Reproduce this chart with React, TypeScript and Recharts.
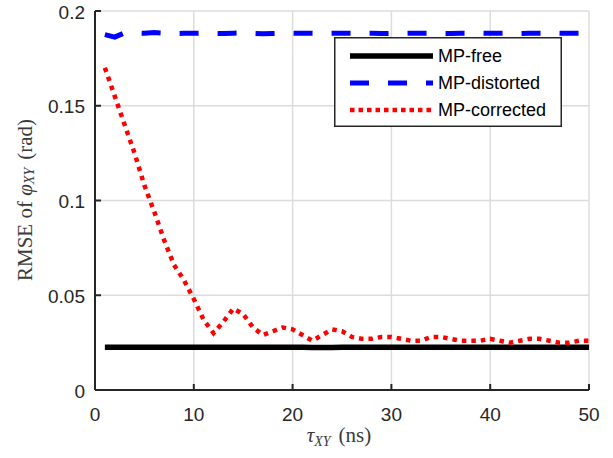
import { CartesianGrid, Label, Legend, Line, LineChart, XAxis, YAxis } from "recharts";

const TAU = [
  1, 2, 3, 4, 5, 6, 7, 8, 9, 10, 11, 12, 13, 14, 15, 16, 17, 18, 19, 20, 21, 22, 23, 24, 25,
  26, 27, 28, 29, 30, 31, 32, 33, 34, 35, 36, 37, 38, 39, 40, 41, 42, 43, 44, 45, 46, 47, 48, 49, 50,
];
const MP_FREE = [
  0.0225, 0.0225, 0.0226, 0.0226, 0.0226, 0.0225, 0.0225, 0.0225, 0.0225, 0.0225, 0.0225, 0.0225, 0.0225,
  0.0225, 0.0225, 0.0225, 0.0225, 0.0225, 0.0225, 0.0225, 0.0225, 0.0224, 0.0224, 0.0224, 0.0225, 0.0225,
  0.0225, 0.0225, 0.0226, 0.0226, 0.0226, 0.0225, 0.0225, 0.0225, 0.0225, 0.0225, 0.0225, 0.0225, 0.0225,
  0.0225, 0.0225, 0.0225, 0.0225, 0.0225, 0.0225, 0.0225, 0.0225, 0.0225, 0.0225, 0.0225,
];
const MP_DISTORTED = [
  0.1875, 0.1862, 0.1885, 0.1884, 0.1882, 0.1886, 0.1883, 0.1881, 0.1882, 0.1882, 0.1883, 0.1882, 0.1881,
  0.1883, 0.1884, 0.1882, 0.1880, 0.1881, 0.1882, 0.1883, 0.1882, 0.1882, 0.1881, 0.1882, 0.1883, 0.1882,
  0.1882, 0.1882, 0.1881, 0.1882, 0.1882, 0.1883, 0.1882, 0.1882, 0.1882, 0.1881, 0.1882, 0.1882, 0.1883,
  0.1882, 0.1882, 0.1882, 0.1881, 0.1882, 0.1882, 0.1882, 0.1883, 0.1882, 0.1882, 0.1882,
];
const MP_CORRECTED = [
  0.170, 0.155, 0.140, 0.125, 0.108, 0.094, 0.079, 0.066, 0.058, 0.048, 0.037, 0.030, 0.036, 0.043, 0.040,
  0.033, 0.029, 0.031, 0.033, 0.032, 0.029, 0.026, 0.029, 0.032, 0.031, 0.028, 0.027, 0.027, 0.028, 0.028,
  0.027, 0.026, 0.026, 0.028, 0.028, 0.027, 0.026, 0.026, 0.026, 0.027, 0.026, 0.025, 0.026, 0.027, 0.027,
  0.026, 0.025, 0.025, 0.026, 0.026,
];
const X_TICKS = [0, 10, 20, 30, 40, 50];
const Y_TICKS = [0, 0.05, 0.1, 0.15, 0.2];
const SERIES = [
  { key: "free", name: "MP-free", color: "#000000", width: 5.5, dash: undefined },
  { key: "distorted", name: "MP-distorted", color: "#0000ff", width: 5, dash: "19 19" },
  { key: "corrected", name: "MP-corrected", color: "#ff0000", width: 4.5, dash: "4.5 5" },
];

const data = TAU.map((t, i) => ({
  tau: t,
  free: MP_FREE[i],
  distorted: MP_DISTORTED[i],
  corrected: MP_CORRECTED[i],
}));

const INK = "#262626";
const SANS = "'Liberation Sans', Arial, sans-serif";
const SERIF = "'Liberation Serif', 'Times New Roman', serif";
const TICK_LEN = 6;

function BottomTick({ x, y, payload }: any) {
  return (
    <g>
      <line x1={x} y1={y} x2={x} y2={y - TICK_LEN} stroke={INK} strokeWidth={2} />
      <text x={x} y={y + 24} textAnchor="middle" dominantBaseline="central" fontSize={19} fontFamily={SANS} fill={INK}>
        {payload.value}
      </text>
    </g>
  );
}

function LeftTick({ x, y, payload }: any) {
  return (
    <g>
      <line x1={x} y1={y} x2={x + TICK_LEN} y2={y} stroke={INK} strokeWidth={2} />
      <text x={x - 10} y={y + 1} textAnchor="end" dominantBaseline="central" fontSize={19} fontFamily={SANS} fill={INK}>
        {payload.value}
      </text>
    </g>
  );
}

const TopTick = ({ x, y }: any) => <line x1={x} y1={y} x2={x} y2={y + TICK_LEN} stroke={INK} strokeWidth={2} />;
const RightTick = ({ x, y }: any) => <line x1={x} y1={y} x2={x - TICK_LEN} y2={y} stroke={INK} strokeWidth={2} />;

function XLabel({ viewBox }: any) {
  const cx = viewBox.x + viewBox.width / 2;
  return (
    <text x={cx - 3} y={viewBox.y + 52} textAnchor="middle" fontSize={21} fontFamily={SERIF} fill="#3a3a3a">
      <tspan fontStyle="italic">τ</tspan>
      <tspan fontStyle="italic" fontSize={14} dy={4}>XY</tspan>
      <tspan dy={-4} dx={8}>(ns)</tspan>
    </text>
  );
}

function YLabel() {
  return (
    <text
      x={25}
      y={200}
      transform="rotate(-90, 25, 200)"
      textAnchor="middle"
      dominantBaseline="central"
      fontSize={21}
      fontFamily={SERIF}
      fill="#3a3a3a"
    >
      RMSE of <tspan fontStyle="italic">φ</tspan>
      <tspan fontStyle="italic" fontSize={14} dy={4}>XY</tspan>
      <tspan dy={-4} dx={8}>(rad)</tspan>
    </text>
  );
}

function LegendBox() {
  return (
    <svg width={228} height={90} style={{ display: "block" }}>
      <rect x={0.75} y={0.75} width={226.5} height={88.5} fill="#ffffff" stroke={INK} strokeWidth={1.5} />
      {SERIES.map((s, i) => {
        const y = 19 + i * 27;
        return (
          <g key={s.key}>
            <line
              x1={16}
              y1={y}
              x2={99}
              y2={y}
              stroke={s.color}
              strokeWidth={s.width}
              strokeDasharray={s.key === "corrected" ? "4.5 4" : s.dash}
            />
            <text x={104} y={y} dominantBaseline="central" fontSize={18} fontFamily={SANS} fill="#000">
              {s.name}
            </text>
          </g>
        );
      })}
    </svg>
  );
}

export default function App() {
  return (
    <div style={{ position: "fixed", left: 0, top: 0, width: 613, height: 458, background: "#fff" }}>
      <LineChart width={613} height={458} data={data} margin={{ top: 11, right: 24, left: 0, bottom: 0 }}>
        <CartesianGrid stroke="#dcdcdc" strokeWidth={1.5} />
        <XAxis
          dataKey="tau"
          type="number"
          domain={[0, 50]}
          ticks={X_TICKS}
          allowDataOverflow
          height={68}
          tickSize={0}
          tickMargin={0}
          tickLine={false}
          tick={<BottomTick />}
          axisLine={{ stroke: INK, strokeWidth: 2 }}
        >
          <Label content={<XLabel />} />
        </XAxis>
        <XAxis
          xAxisId="top"
          orientation="top"
          dataKey="tau"
          type="number"
          domain={[0, 50]}
          ticks={X_TICKS}
          allowDataOverflow
          height={0}
          tickSize={0}
          tickMargin={0}
          tickLine={false}
          tick={<TopTick />}
          axisLine={{ stroke: INK, strokeWidth: 2 }}
        />
        <YAxis
          type="number"
          domain={[0, 0.2]}
          ticks={Y_TICKS}
          allowDataOverflow
          width={95}
          tickSize={0}
          tickMargin={0}
          tickLine={false}
          tick={<LeftTick />}
          axisLine={{ stroke: INK, strokeWidth: 2 }}
        >
          <Label content={<YLabel />} />
        </YAxis>
        <YAxis
          yAxisId="right"
          orientation="right"
          type="number"
          domain={[0, 0.2]}
          ticks={Y_TICKS}
          allowDataOverflow
          width={0}
          tickSize={0}
          tickMargin={0}
          tickLine={false}
          tick={<RightTick />}
          axisLine={{ stroke: INK, strokeWidth: 2 }}
        />
        <Legend
          layout="horizontal"
          verticalAlign="middle"
          align="center"
          content={<LegendBox />}
          wrapperStyle={{ left: 334, top: 37, width: 228, height: 90 }}
        />
        {SERIES.map((s) => (
          <Line
            key={s.key}
            type="linear"
            dataKey={s.key}
            name={s.name}
            stroke={s.color}
            strokeWidth={s.width}
            strokeDasharray={s.dash}
            dot={false}
            activeDot={false}
            isAnimationActive={false}
          />
        ))}
      </LineChart>
    </div>
  );
}
